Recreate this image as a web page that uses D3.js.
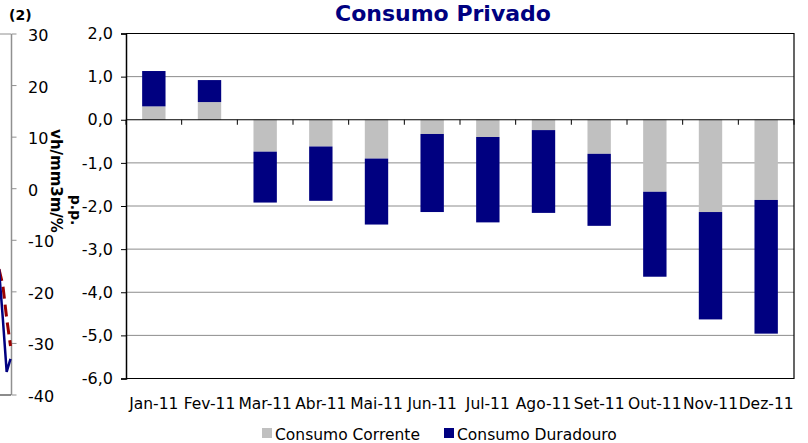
<!DOCTYPE html>
<html><head><meta charset="utf-8">
<script src="https://cdn.jsdelivr.net/npm/d3@7"></script>
<style>body{margin:0;background:#fff} svg{display:block} text{font-family:"DejaVu Sans",sans-serif}</style>
</head><body><svg width="808" height="443"></svg>
<script>
// ---- data: main chart ----
const categories = ["Jan-11","Fev-11","Mar-11","Abr-11","Mai-11","Jun-11","Jul-11","Ago-11","Set-11","Out-11","Nov-11","Dez-11"];
const corrente   = [0.31, 0.41, -0.74, -0.62, -0.90, -0.33, -0.40, -0.24, -0.79, -1.67, -2.14, -1.86];
const duradouro  = [0.82, 0.51, -1.18, -1.26, -1.53, -1.81, -1.98, -1.92, -1.67, -1.97, -2.49, -3.10];
const seriesNames = ["Consumo Corrente","Consumo Duradouro"];
const yTicks = [2,1,0,-1,-2,-3,-4,-5,-6];
const title = "Consumo Privado";
const yTitle = "p.p.";
// ---- data: partial neighbouring chart (left edge) ----
const leftTicks = [30,20,10,0,-10,-20,-30,-40];
const leftSolid  = [-15.6, -25.2, -35.5, -33.0];
const leftDashed = [-15.6, -18.7, -25.1, -30.5];
const leftTitle = "vh/mm3m/%";
const leftTag = "(2)";

const svg = d3.select("svg");
const colors = ["#C0C0C0", "#000080"];
const fmt = v => d3.format(".1f")(v).replace(".", ",").replace("−","-");

const P = {left:126, right:794, top:33.5, bottom:378.5};
const x = d3.scaleBand().domain(categories).range([P.left, P.right]).paddingInner(0.58).paddingOuter(0.29);
const y = d3.scaleLinear().domain([-6, 2]).range([P.bottom, P.top]);

// gridlines
svg.append("g").selectAll("line").data(yTicks.filter(v => v !== 0 && v !== 2 && v !== -6)).join("line")
  .attr("x1", P.left).attr("x2", P.right).attr("y1", d => y(d)).attr("y2", d => y(d))
  .attr("stroke", "#8c8c8c").attr("stroke-width", 1);

// bars
const rows = categories.map((c, i) => ({cat: c, corrente: corrente[i], duradouro: duradouro[i]}));
const stack = d3.stack().keys(["corrente","duradouro"]).offset(d3.stackOffsetDiverging)(rows);
svg.append("g").selectAll("g").data(stack).join("g").attr("fill", (d, i) => colors[i])
  .selectAll("rect").data(d => d).join("rect")
  .attr("x", d => x(d.data.cat)).attr("width", x.bandwidth())
  .attr("y", d => y(Math.max(d[0], d[1]))).attr("height", d => Math.abs(y(d[0]) - y(d[1])));

// plot border (top, right, bottom)
svg.append("path").attr("d", `M${P.left},${P.top}H${P.right}V${P.bottom}H${P.left}`)
  .attr("fill","none").attr("stroke","#000").attr("stroke-width",1.2);

// y axis
const yAxis = d3.axisLeft(y).tickValues(yTicks).tickSize(5).tickPadding(8).tickFormat(fmt);
const gy = svg.append("g").attr("transform", `translate(${P.left},0)`).call(yAxis);
gy.select(".domain").attr("stroke","#000").attr("stroke-width",1.5);
gy.selectAll(".tick line").attr("stroke","#000");
gy.selectAll("text").attr("font-size", 16).attr("fill","#000").style("font-family","DejaVu Sans");

// zero line + category tick marks
const y0 = y(0);
svg.append("line").attr("x1", P.left).attr("x2", P.right).attr("y1", y0).attr("y2", y0).attr("stroke","#000").attr("stroke-width",1.2);
const bounds = d3.range(categories.length + 1).map(i => P.left + i * x.step());
svg.append("g").selectAll("line").data(bounds).join("line")
  .attr("x1", d => d).attr("x2", d => d).attr("y1", y0).attr("y2", y0 + 5).attr("stroke","#000");

// x labels
svg.append("g").selectAll("text").data(categories).join("text")
  .attr("x", d => x(d) + x.bandwidth() / 2).attr("y", 409).attr("text-anchor","middle")
  .attr("font-size", 15.5).text(d => d);

// title
svg.append("text").attr("x", 443).attr("y", 21).attr("text-anchor","middle")
  .attr("font-size", 22).attr("font-weight","bold").attr("fill","#000080").text(title);

// legend
const legX = [262, 444];
seriesNames.forEach((n, i) => {
  svg.append("rect").attr("x", legX[i]).attr("y", 428).attr("width", 10).attr("height", 10).attr("fill", colors[i]);
  svg.append("text").attr("x", legX[i] + 13).attr("y", 439.5).attr("font-size", 15.5).text(n);
});

// y title of main chart
svg.append("text").attr("transform","translate(71,210) rotate(90)").attr("text-anchor","middle")
  .attr("font-size", 14).attr("font-weight","bold").text(yTitle);

// ---- partial left chart ----
const yl = d3.scaleLinear().domain([-40, 30]).range([395, 34]);
const xl = d3.scaleLinear().domain([0, 3]).range([-1, 10.5]);
svg.append("line").attr("x1", 11.5).attr("x2", 11.5).attr("y1", yl(30)).attr("y2", yl(-40)).attr("stroke","#909090").attr("stroke-width",1.5);
svg.append("g").selectAll("line").data(leftTicks).join("line")
  .attr("x1", 11.5).attr("x2", 16.5).attr("y1", d => yl(d)).attr("y2", d => yl(d)).attr("stroke","#909090");
svg.append("line").attr("x1", 0).attr("x2", 11).attr("y1", yl(30)).attr("y2", yl(30)).attr("stroke","#909090");
svg.append("line").attr("x1", 0).attr("x2", 11).attr("y1", yl(-40)).attr("y2", yl(-40)).attr("stroke","#404040").attr("stroke-width",1.2);
svg.append("g").selectAll("text").data(leftTicks).join("text")
  .attr("x", 28).attr("y", d => yl(d) + 7).attr("font-size", 16).text(d => d3.format("d")(d).replace("−","-"));
const line = d3.line().x((d, i) => xl(i)).y(d => yl(d));
svg.append("path").datum(leftDashed).attr("d", line).attr("fill","none").attr("stroke","#990000").attr("stroke-width",3).attr("stroke-dasharray","12,6");
svg.append("path").datum(leftSolid).attr("d", line).attr("fill","none").attr("stroke","#000080").attr("stroke-width",2.5);
svg.append("text").attr("x", 9).attr("y", 20).attr("font-size", 14).attr("font-weight","bold").text(leftTag);
svg.append("text").attr("transform","translate(51,181) rotate(90)").attr("text-anchor","middle")
  .attr("font-size", 15).attr("font-weight","bold").text(leftTitle);
</script></body></html>
